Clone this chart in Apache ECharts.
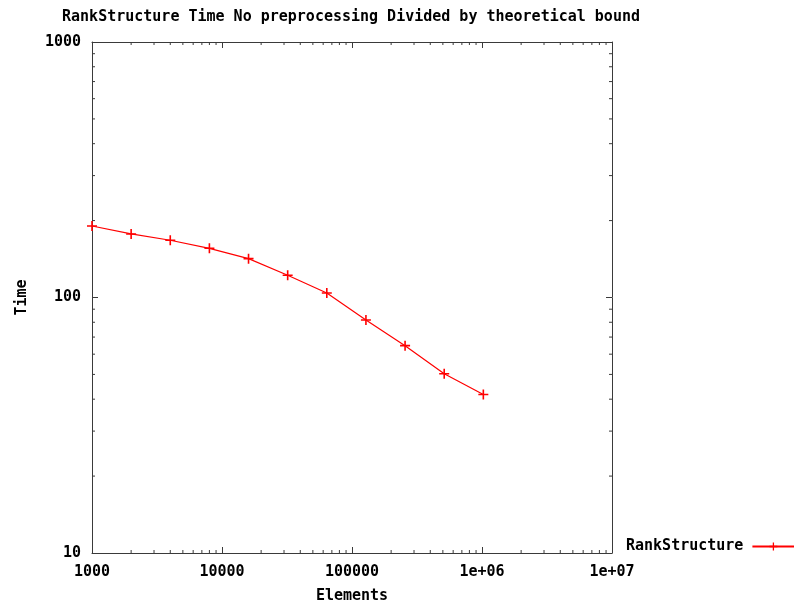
<!DOCTYPE html>
<html>
<head>
<meta charset="utf-8">
<script src="https://cdn.jsdelivr.net/npm/echarts@6/dist/echarts.min.js"></script>
<style>
  html, body { margin: 0; padding: 0; background: #fff; }
  #chart { width: 794px; height: 605px; }
</style>
</head>
<body>
<div id="chart"></div>
<script>
// 資料
const elements = [1000, 2000, 4000, 8000, 16000, 32000, 64000, 128000, 256000, 512000, 1024000]
const times = [190.5, 177.3, 167.5, 155.8, 141.9, 122.2, 104.1, 81.6, 64.8, 50.3, 41.7]
const xTicks = [1000, 10000, 100000, 1000000, 10000000]
const yTicks = [10, 100, 1000]

// 次刻度 (2..9 每個十進位)
const minorX = []
for (let d = 1000; d < 1e7; d *= 10) {
  for (let k = 2; k <= 9; k++) minorX.push(d * k)
}
const minorY = []
for (let d = 10; d < 1000; d *= 10) {
  for (let k = 2; k <= 9; k++) minorY.push(d * k)
}

const font = 'DejaVu Sans Mono'
const frame = '#3a3a3a'
const plus = 'path://M4.2,0H5.8V4.2H10V5.8H5.8V10H4.2V5.8H0V4.2H4.2Z'
const txt = { fontFamily: font, fontWeight: 'bold', fontSize: 15, color: '#000' }

function fmtX(v) {
  if (v >= 1e6) return '1e+0' + Math.round(Math.log10(v))
  return String(v)
}

const chart = echarts.init(document.getElementById('chart'))
chart.setOption({
  animation: false,
  title: {
    text: 'RankStructure Time No preprocessing Divided by theoretical bound',
    left: 346,
    textAlign: 'center',
    top: 5,
    textStyle: txt,
  },
  legend: {
    left: 626,
    top: 539,
    padding: 0,
    align: 'right',
    itemWidth: 42,
    itemHeight: 10,
    textStyle: Object.assign({ padding: [0, 4, 0, 0] }, txt),
    data: ['RankStructure'],
  },
  grid: { left: 92, right: 182, top: 42, bottom: 52, outerBoundsMode: 'none', containLabel: false },
  xAxis: [
    {
      type: 'log',
      logBase: 10,
      min: 1000,
      max: 1e7,
      name: 'Elements',
      nameLocation: 'middle',
      nameGap: 36,
      nameTextStyle: txt,
      axisLine: { lineStyle: { color: frame, width: 1 } },
      axisTick: { inside: true, length: 6, lineStyle: { color: frame } },
      axisLabel: Object.assign({ formatter: fmtX, margin: 12 }, txt),
      splitLine: { show: false },
    },
    {
      type: 'log',
      logBase: 10,
      min: 1000,
      max: 1e7,
      position: 'top',
      axisLine: { lineStyle: { color: frame, width: 1 } },
      axisTick: { inside: true, length: 6, lineStyle: { color: frame } },
      axisLabel: { show: false },
      splitLine: { show: false },
    },
  ],
  yAxis: [
    {
      type: 'log',
      logBase: 10,
      min: 10,
      max: 1000,
      name: 'Time',
      nameLocation: 'middle',
      nameGap: 62,
      nameRotate: 90,
      nameTextStyle: txt,
      axisLine: { lineStyle: { color: frame, width: 1 } },
      axisTick: { inside: true, length: 6, lineStyle: { color: frame } },
      axisLabel: Object.assign({ margin: 11, formatter: v => String(Math.round(v)) }, txt),
      splitLine: { show: false },
    },
    {
      type: 'log',
      logBase: 10,
      min: 10,
      max: 1000,
      position: 'right',
      axisLine: { lineStyle: { color: frame, width: 1 } },
      axisTick: { inside: true, length: 6, lineStyle: { color: frame } },
      axisLabel: { show: false },
      splitLine: { show: false },
    },
  ],
  series: [
    {
      name: 'RankStructure',
      type: 'line',
      data: elements.map((e, i) => [e, times[i]]),
      symbol: plus,
      symbolSize: 10,
      showSymbol: true,
      itemStyle: { color: '#ff0000' },
      lineStyle: { color: '#ff0000', width: 1.2 },
      z: 5,
    },
    {
      // x 軸次刻度 (上下)
      type: 'custom',
      silent: true,
      data: minorX.map(v => [v]),
      renderItem: function (params, api) {
        const b = api.coord([api.value(0), 10])
        const t = api.coord([api.value(0), 1000])
        const s = { stroke: frame, lineWidth: 1 }
        return {
          type: 'group',
          children: [
            { type: 'line', shape: { x1: b[0], y1: b[1], x2: b[0], y2: b[1] - 3 }, style: s },
            { type: 'line', shape: { x1: t[0], y1: t[1], x2: t[0], y2: t[1] + 3 }, style: s },
          ],
        }
      },
    },
    {
      // y 軸次刻度 (左右)
      type: 'custom',
      silent: true,
      data: minorY.map(v => [v]),
      renderItem: function (params, api) {
        const l = api.coord([1000, api.value(0)])
        const r = api.coord([1e7, api.value(0)])
        const s = { stroke: frame, lineWidth: 1 }
        return {
          type: 'group',
          children: [
            { type: 'line', shape: { x1: l[0], y1: l[1], x2: l[0] + 3, y2: l[1] }, style: s },
            { type: 'line', shape: { x1: r[0], y1: r[1], x2: r[0] - 3, y2: r[1] }, style: s },
          ],
        }
      },
      encode: { y: 0 },
    },
  ],
})
</script>
</body>
</html>
